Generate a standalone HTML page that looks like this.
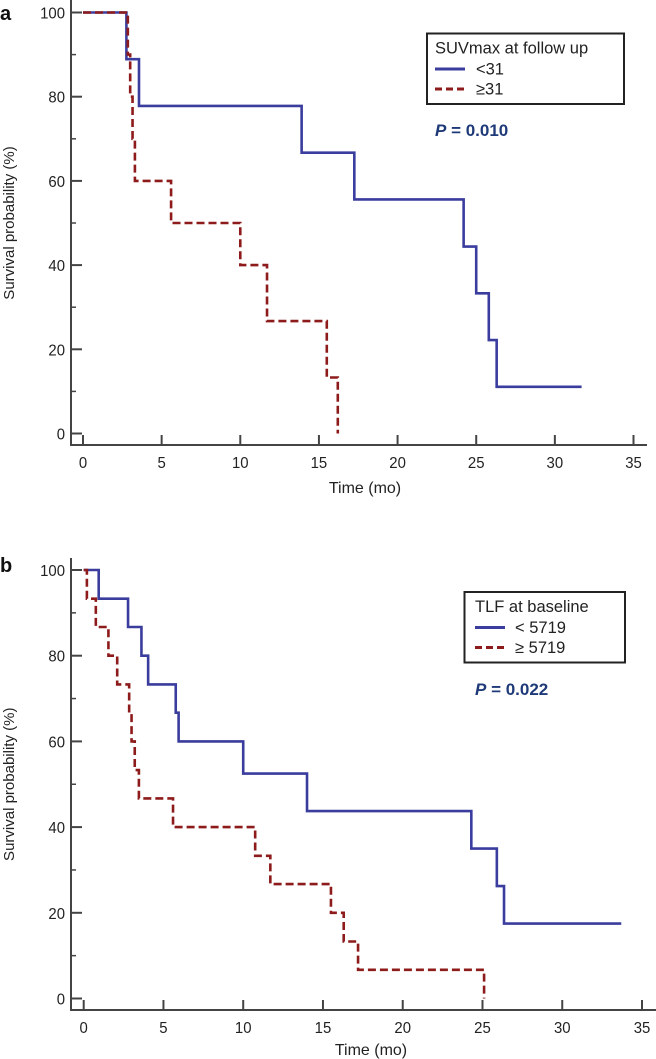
<!DOCTYPE html>
<html><head><meta charset="utf-8"><style>
html,body{margin:0;padding:0;background:#fff;overflow:hidden;}
svg{display:block;font-family:"Liberation Sans",Arial,sans-serif;}
</style></head><body>
<svg id="fig" width="656" height="1059" viewBox="0 0 656 1059">
<text x="0" y="20" font-size="20" font-weight="bold" fill="#111">a</text>
<text x="0" y="572" font-size="20" font-weight="bold" fill="#111">b</text>
<g id="pa"></g>
<g id="pb"></g>
</svg>
<script>
// Panel a data
const aBlueT = [0, 2.76, 3.56, 13.9, 17.25, 24.2, 25.0, 25.8, 26.3, 31.7];
const aBlueS = [100, 88.9, 77.8, 66.7, 55.6, 44.4, 33.3, 22.2, 11.1, 11.1];
const aRedT = [0, 2.85, 3.0, 3.15, 3.3, 5.6, 10.0, 11.7, 15.5, 16.2, 16.2];
const aRedS = [100, 90, 80, 70, 60, 50, 40, 26.7, 13.3, 0, 0];
// Panel b data
const bBlueT = [0, 0.94, 2.78, 3.62, 4.04, 5.77, 5.95, 10.0, 14.0, 24.3, 25.9, 26.35, 33.7];
const bBlueS = [100, 93.3, 86.7, 80, 73.3, 66.7, 60, 52.5, 43.75, 35, 26.25, 17.5, 17.5];
const bRedT = [0, 0.2, 0.76, 1.55, 2.1, 2.85, 3.0, 3.2, 3.46, 5.6, 10.75, 11.7, 15.5, 16.3, 17.2, 25.1, 25.1];
const bRedS = [100, 93.3, 86.7, 80, 73.3, 66.7, 60, 53.3, 46.7, 40, 33.3, 26.7, 20, 13.3, 6.7, 0, 0];
const xTicks = [0, 5, 10, 15, 20, 25, 30, 35];
const yTicks = [0, 20, 40, 60, 80, 100];
const yMinor = [10, 30, 50, 70, 90];

const NS = "http://www.w3.org/2000/svg";
function mk(parent, tag, attrs, text) {
  const e = document.createElementNS(NS, tag);
  for (const k in attrs) e.setAttribute(k, attrs[k]);
  if (text !== undefined) e.textContent = text;
  parent.appendChild(e);
  return e;
}
function panel(g, cfg) {
  const X = t => cfg.x0 + (cfg.x35 - cfg.x0) * t / 35;
  const Y = s => cfg.y0 + (cfg.y100 - cfg.y0) * s / 100;
  const axis = mk(g, "path", {d: `M${cfg.axL},${cfg.axTop} V${cfg.axB} H${cfg.axR}`, fill: "none", stroke: "#444", "stroke-width": 2});
  
  
  yTicks.forEach(v => {
    const t = mk(g, "line", {x1: cfg.axL, x2: cfg.axL + 11, y1: Y(v), y2: Y(v), stroke: "#444", "stroke-width": 2});
    
    
    const l = mk(g, "text", {x: 65, y: Y(v) + 6, "font-size": 16, "text-anchor": "end", fill: "#222", textLength: String(v).length * 8.3, lengthAdjust: "spacingAndGlyphs"}, String(v));
    
    
  });
  yMinor.forEach(v => {
    const t = mk(g, "line", {x1: cfg.axL, x2: cfg.axL + 5, y1: Y(v), y2: Y(v), stroke: "#444", "stroke-width": 1.5});
    
    
  });
  xTicks.forEach(v => {
    const t = mk(g, "line", {x1: X(v), x2: X(v), y1: cfg.axB, y2: cfg.axB - 10, stroke: "#444", "stroke-width": 2});
    
    
    const l = mk(g, "text", {x: X(v), y: cfg.axB + 23, "font-size": 16, "text-anchor": "middle", fill: "#222", textLength: String(v).length * 8.3, lengthAdjust: "spacingAndGlyphs"}, String(v));
    
    
  });
  const xt = mk(g, "text", {x: cfg.tX, y: cfg.axB + cfg.tOff, "font-size": 16, "text-anchor": "middle", fill: "#222"}, "Time  (mo)");
  
  
  xt.setAttribute('xml:space', 'preserve');
  const ym = (cfg.y0 + cfg.y100) / 2;
  const yt = mk(g, "text", {x: 14, y: ym, "font-size": 15, "text-anchor": "middle", fill: "#222", transform: `rotate(-90 14 ${ym})`}, "Survival probability (%)");
  
  
  function step(T, S) {
    let d = `M${X(T[0])},${Y(S[0])}`;
    for (let i = 1; i < T.length; i++) d += ` H${X(T[i])} V${Y(S[i])}`;
    return d;
  }
  const blue = mk(g, "path", {d: step(cfg.bT, cfg.bS), fill: "none", stroke: "#3a3d9e", "stroke-width": 2.6});
  
  
  const red = mk(g, "path", {d: step(cfg.rT, cfg.rS), fill: "none", stroke: "#8e1b1b", "stroke-width": 2.6, "stroke-dasharray": "8,4"});
  
  
  const L = cfg.leg;
  const box = mk(g, "rect", {x: L.x, y: L.y, width: L.w, height: 70.5, fill: "#fff", stroke: "#222", "stroke-width": 2});
  
  
  const lt = mk(g, "text", {x: L.tx, y: L.y + 20, "font-size": 16.5, fill: "#222"}, L.title);
  
  
  const l1 = mk(g, "line", {x1: L.tx, x2: L.tx + 30, y1: L.y + 35.5, y2: L.y + 35.5, stroke: "#3a3d9e", "stroke-width": 3});
  
  
  const t1 = mk(g, "text", {x: L.lx, y: L.y + 41, "font-size": 16.5, fill: "#222"}, L.l1);
  
  
  const l2 = mk(g, "line", {x1: L.tx, x2: L.tx + 30, y1: L.y + 55.5, y2: L.y + 55.5, stroke: "#8e1b1b", "stroke-width": 3, "stroke-dasharray": "7,4"});
  
  
  const t2 = mk(g, "text", {x: L.lx, y: L.y + 61, "font-size": 16.5, fill: "#222"}, L.l2);
  
  
  const p = mk(g, "text", {x: L.tx, y: L.py, "font-size": 17, "font-weight": "bold", fill: "#1f3a78"}, "");
  
  
  mk(p, "tspan", {"font-style": "italic"}, "P");
  mk(p, "tspan", {}, " = " + L.p);
}
panel(document.getElementById("pa"), {x0: 83, x35: 633.5, y0: 433.5, y100: 12.5, axL: 71, axR: 647, axTop: 0, axB: 445, tOff: 48, tX: 365,
  bT: aBlueT, bS: aBlueS, rT: aRedT, rS: aRedS,
  leg: {x: 427, y: 33.5, w: 197, tx: 435, lx: 476, title: "SUVmax at follow up", l1: "<31", l2: "≥31", py: 136, p: "0.010"}});
panel(document.getElementById("pb"), {x0: 83.7, x35: 642, y0: 998.5, y100: 570, axL: 71, axR: 656, axTop: 558, axB: 1010, tOff: 45, tX: 371,
  bT: bBlueT, bS: bBlueS, rT: bRedT, rS: bRedS,
  leg: {x: 464.5, y: 592, w: 160.5, tx: 475, lx: 515, title: "TLF at baseline", l1: "< 5719", l2: "≥ 5719", py: 695, p: "0.022"}});
</script>
</body></html>
